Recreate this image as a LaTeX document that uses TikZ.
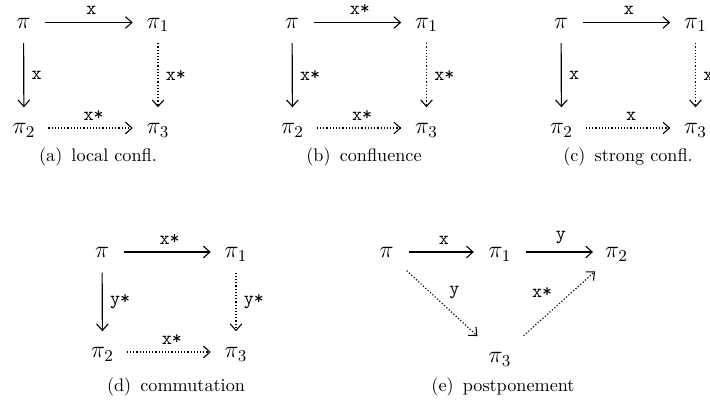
\documentclass[tikz,border=0pt]{standalone}
\usepackage{fix-cm}
\usetikzlibrary{arrows.meta,positioning}
\tikzset{
  obj/.style={inner sep=0pt, font=\fontsize{13}{15}\selectfont, text height=8.4pt, text depth=2pt},
  lab/.style={inner sep=0pt, font=\fontsize{10.5}{12}\selectfont\ttfamily},
  captext/.style={inner sep=0pt, anchor=base, font=\fontsize{10}{12}\selectfont},
  tipstyle/.style={-{Straight Barb[length=3.6pt,width=6.4pt,line width=0.6pt]}},
  solidar/.style={line width=0.65pt, tipstyle},
  dotar/.style={line width=0.65pt, dash pattern=on 0.65pt off 1.1pt, tipstyle},
  hsh/.style={shorten <=8pt, shorten >=7.5pt},
  vsh/.style={shorten <=6pt, shorten >=6pt},
}
\begin{document}
\begin{tikzpicture}[x=0.55pt,y=-0.55pt]
\useasboundingbox (0,0) rectangle (710,403);
% ---------- (a) local confl.
\node[obj] (a0) at (23.5,22.5) {$\pi$};
\node[obj] (a1) at (158,22.5) {$\pi_1$};
\node[obj] (a2) at (24,128) {$\pi_2$};
\node[obj] (a3) at (158,128) {$\pi_3$};
\draw[solidar,hsh] (a0) -- node[lab,above=4pt,xshift=1.5pt]{x} (a1);
\draw[solidar,vsh] (a0) -- node[lab,right=4pt]{x} (a2);
\draw[dotar,vsh] (a1) -- node[lab,right=4pt]{x*} (a3);
\draw[dotar,shorten <=7pt,shorten >=7.5pt] (a2) -- node[lab,above=4pt,xshift=1.5pt]{x*} (a3);
\node[captext] (ca) at (98,162) {(a)\enspace local confl.};
% ---------- (b) confluence
\node[obj] (b0) at (292,22.5) {$\pi$};
\node[obj] (b1) at (426.5,22.5) {$\pi_1$};
\node[obj] (b2) at (292.5,128) {$\pi_2$};
\node[obj] (b3) at (426.5,128) {$\pi_3$};
\draw[solidar,hsh] (b0) -- node[lab,above=4pt,xshift=1.5pt]{x*} (b1);
\draw[solidar,vsh] (b0) -- node[lab,right=4pt]{x*} (b2);
\draw[dotar,vsh] (b1) -- node[lab,right=4pt]{x*} (b3);
\draw[dotar,shorten <=7pt,shorten >=7.5pt] (b2) -- node[lab,above=4pt,xshift=1.5pt]{x*} (b3);
\node[captext] (cb) at (364,162) {(b)\enspace confluence};
% ---------- (c) strong confl.
\node[obj] (c0) at (561,22.5) {$\pi$};
\node[obj] (c1) at (695.5,22.5) {$\pi_1$};
\node[obj] (c2) at (561.5,128) {$\pi_2$};
\node[obj] (c3) at (695.5,128) {$\pi_3$};
\draw[solidar,hsh] (c0) -- node[lab,above=4pt,xshift=1.5pt]{x} (c1);
\draw[solidar,vsh] (c0) -- node[lab,right=4pt]{x} (c2);
\draw[dotar,vsh] (c1) -- node[lab,right=4pt]{x*} (c3);
\draw[dotar,shorten <=7pt,shorten >=7.5pt] (c2) -- node[lab,above=4pt,xshift=1.5pt]{x} (c3);
\node[captext] (cc) at (628,162) {(c)\enspace strong confl.};
% ---------- (d) commutation
\node[obj] (d0) at (102,252) {$\pi$};
\node[obj] (d1) at (236,252) {$\pi_1$};
\node[obj] (d2) at (102.5,352) {$\pi_2$};
\node[obj] (d3) at (236,352) {$\pi_3$};
\draw[solidar,hsh] (d0) -- node[lab,above=4pt,xshift=1.5pt]{x*} (d1);
\draw[solidar,vsh] (d0) -- node[lab,right=4pt]{y*} (d2);
\draw[dotar,vsh] (d1) -- node[lab,right=4pt]{y*} (d3);
\draw[dotar,shorten <=7pt,shorten >=7.5pt] (d2) -- node[lab,above=4pt,xshift=1.5pt]{x*} (d3);
\node[captext] (cd) at (176,391) {(d)\enspace commutation};
% ---------- (e) postponement
\node[obj] (e0) at (386.5,252) {$\pi$};
\node[obj] (e1) at (500,252) {$\pi_1$};
\node[obj] (e2) at (616.5,252) {$\pi_2$};
\node[obj] (e3) at (500,357) {$\pi_3$};
\draw[solidar,shorten <=8.4pt,shorten >=8pt] (e0) -- node[lab,above=4pt,xshift=1.5pt]{x} (e1);
\draw[solidar,shorten <=8pt,shorten >=6.5pt] (e1) -- node[lab,above=4pt,xshift=1.5pt]{y} (e2);
\draw[dotar,shorten <=9.6pt,shorten >=9pt] (e0) -- node[lab,above right=2pt and 4pt]{y} (e3);
\draw[dotar,shorten <=9.4pt,shorten >=7.8pt] (e3) -- node[lab,above left=3.5pt and 3pt]{x*} (e2);
\node[captext] (ce) at (503,391) {(e)\enspace postponement};
\end{tikzpicture}
\end{document}
